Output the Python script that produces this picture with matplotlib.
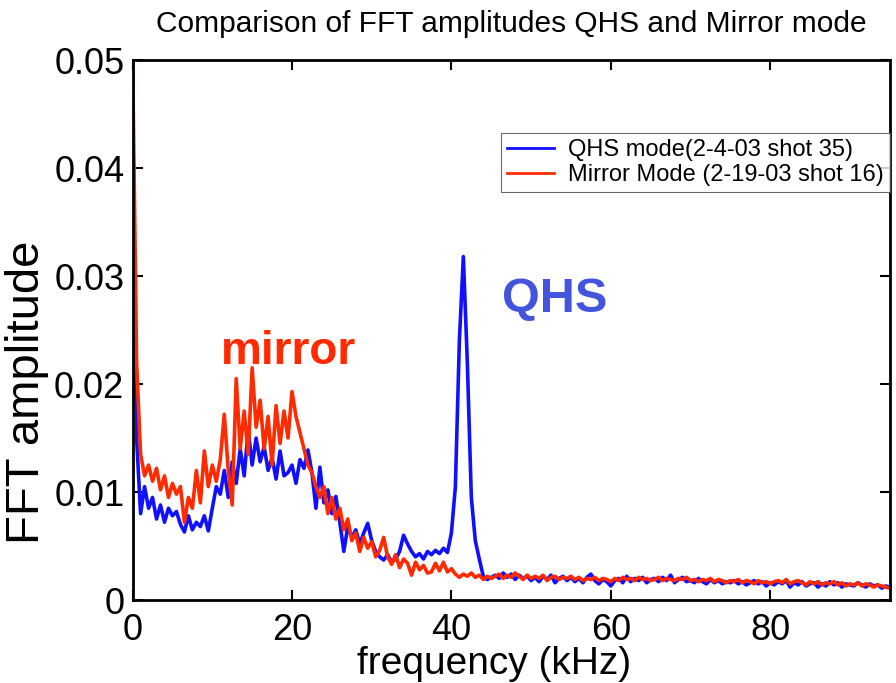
import numpy as np
import matplotlib
matplotlib.use("Agg")
import matplotlib.pyplot as plt

plt.rcParams['font.family'] = ['Liberation Sans', 'DejaVu Sans']

# FFT amplitudes in units of 1e-3, sampled every 0.5 kHz from 0 to 95 kHz
qhs_amp = [
    46, 15, 8.0, 10.5, 8.5, 9.5, 7.5, 8.8, 7.2, 8.5,
    7.8, 8.2, 7.0, 6.3, 7.8, 6.5, 7.2, 6.8, 7.8, 6.4,
    8.5, 10.5, 9.8, 12.0, 9.5, 12.8, 10.8, 14.0, 11.5, 15.8,
    12.5, 15.0, 12.8, 14.2, 12.0, 13.2, 11.2, 13.8, 11.5, 11.8,
    12.5, 10.8, 13.0, 12.2, 13.9, 11.8, 8.5, 12.3, 9.0, 10.2,
    8.0, 9.6, 7.2, 4.5, 6.8, 5.8, 6.5, 5.2, 6.2, 7.1,
    5.5, 4.5, 4.0, 3.7, 4.2, 3.5, 3.8, 4.5, 6.0, 5.2,
    4.5, 4.0, 4.3, 3.8, 4.5, 4.2, 4.6, 4.3, 4.8, 4.4,
    6.2, 10.5, 24.0, 31.8, 22.0, 9.5, 5.5, 3.8, 2.2, 1.9,
    2.1,
    2.3, 2.0, 2.5, 2.1, 2.4, 1.9, 2.3, 2.0, 2.2, 1.8,
    2.1, 1.7, 2.2, 1.9, 2.3, 1.6, 2.0, 2.2, 1.8, 2.1,
    1.7, 2.0, 1.6, 2.1, 2.4, 1.8, 1.5, 1.9, 1.7, 1.3,
    1.8, 2.0, 1.6, 2.2, 1.7, 2.0, 1.8, 2.1, 1.6, 1.9,
    2.0, 1.7, 2.1, 1.8, 2.3, 1.6, 1.9, 2.1, 1.7, 1.8,
    1.6, 2.0, 1.7, 1.5, 1.9, 1.6, 1.8, 1.5, 1.7, 1.6,
    1.8, 1.5, 1.7, 1.4, 1.6, 1.8, 1.5, 1.7, 1.3, 1.6,
    1.4, 1.7, 1.5, 1.8, 1.2, 1.6, 1.4, 1.7, 1.3, 1.5,
    1.6, 1.2, 1.5, 1.3, 1.7, 1.4, 1.6, 1.2, 1.5, 1.4,
    1.3, 1.6, 1.4, 1.2, 1.5, 1.3, 1.4, 1.1, 1.3, 1.2,
]

mirror_amp = [
    50, 22, 13.5, 11.5, 12.5, 11.0, 12.2, 10.2, 11.5, 9.5,
    10.8, 9.8, 10.5, 7.2, 9.5, 8.5, 12.0, 9.0, 13.8, 10.5,
    12.5, 11.0, 13.0, 17.2, 12.0, 8.8, 20.5, 14.0, 17.5, 13.5,
    21.5, 16.0, 18.5, 14.0, 17.0, 12.5, 18.0, 14.5, 17.5, 15.0,
    19.3, 17.0, 15.5, 14.0, 12.5, 11.8, 10.5, 9.5, 10.5, 8.0,
    9.5, 7.5, 8.5, 6.5, 7.5, 5.5, 6.2, 4.5, 5.8, 4.8,
    5.4, 4.0, 4.6, 5.8, 4.0, 3.3, 4.2, 3.0, 3.8, 3.4,
    2.3, 3.5, 2.8, 3.2, 2.5, 2.6, 3.4, 2.7, 3.5, 2.6,
    2.9, 2.4, 2.1, 2.4, 2.2, 2.5, 2.1, 2.3, 1.9, 2.2,
    2.0,
    2.2, 2.4, 2.0, 2.3, 2.1, 2.5, 2.2, 1.9, 2.3, 2.0,
    2.2, 2.0, 2.3, 1.8, 2.1, 2.2, 1.9, 2.1, 2.0, 2.2,
    1.9, 2.1, 1.8, 2.0, 1.9, 2.1, 1.8, 2.0, 1.9, 1.7,
    2.0, 1.8, 2.1, 1.9, 2.0, 1.8, 2.1, 1.9, 2.0, 1.8,
    1.9, 2.1, 1.8, 2.0, 1.9, 1.8, 2.0, 1.9, 2.1, 1.8,
    1.9, 1.7, 1.9, 1.8, 2.0, 1.7, 1.9, 1.8, 1.6, 1.8,
    1.7, 1.9, 1.6, 1.8, 1.7, 1.5, 1.8, 1.6, 1.7, 1.5,
    1.7, 1.8, 1.6, 1.9, 1.5, 1.7, 1.8, 1.6, 1.4, 1.7,
    1.5, 1.7, 1.4, 1.6, 1.5, 1.7, 1.4, 1.6, 1.3, 1.5,
    1.4, 1.6, 1.3, 1.5, 1.4, 1.2, 1.4, 1.3, 1.2, 1.1,
]

freq_step = 0.5
x_ticks = [0, 20, 40, 60, 80]
y_ticks = [0, 0.01, 0.02, 0.03, 0.04, 0.05]
y_tick_labels = ['0', '0.01', '0.02', '0.03', '0.04', '0.05']

freq = np.arange(len(qhs_amp)) * freq_step
qhs = np.array(qhs_amp) * 1e-3
mirror = np.array(mirror_amp) * 1e-3

fig = plt.figure(figsize=(8.96, 6.83), dpi=100)
ax = fig.add_axes([0.148, 0.1215, 0.845, 0.7905])

ax.plot(freq, qhs, color='#1010ff', lw=2.6, label='QHS mode(2-4-03 shot 35)')
ax.plot(freq, mirror, color='#ff2a00', lw=2.6, label='Mirror Mode (2-19-03 shot 16)')

ax.set_xlim(0, 95)
ax.set_ylim(0, 0.05)
ax.set_xticks(x_ticks)
ax.set_yticks(y_ticks)
ax.set_yticklabels(y_tick_labels)
ax.tick_params(direction='in', length=7, width=1.5, labelsize=26,
               top=True, right=True)
ax.tick_params(axis='y', pad=6)
ax.tick_params(axis='x', pad=9)
for sp in ax.spines.values():
    sp.set_linewidth(2)

ax.set_xlabel('frequency (kHz)', fontsize=28)
ax.xaxis.set_label_coords(0.478, -0.085)
ax.set_ylabel('FFT amplitude', fontsize=34)
ax.yaxis.set_label_coords(-0.11, 0.385)
ax.set_title('Comparison of FFT amplitudes QHS and Mirror mode', fontsize=21.5, pad=20)

ax.text(19.5, 0.023, 'mirror', color='#ff2a00', fontsize=33, fontweight='bold',
        ha='center', va='center')
ax.text(53.0, 0.0278, 'QHS', color='#4455dd', fontsize=35, fontweight='bold',
        ha='center', va='center')

leg = ax.legend(loc='upper right', bbox_to_anchor=(1.0, 0.865), fontsize=17,
                frameon=True, fancybox=False, edgecolor='#444444',
                handlelength=2.0, handletextpad=0.6, borderpad=0.25,
                labelspacing=0.15, borderaxespad=0)
leg.get_frame().set_linewidth(0.8)
for line in leg.get_lines():
    line.set_linewidth(2)

fig.savefig('out.png', dpi=100)
